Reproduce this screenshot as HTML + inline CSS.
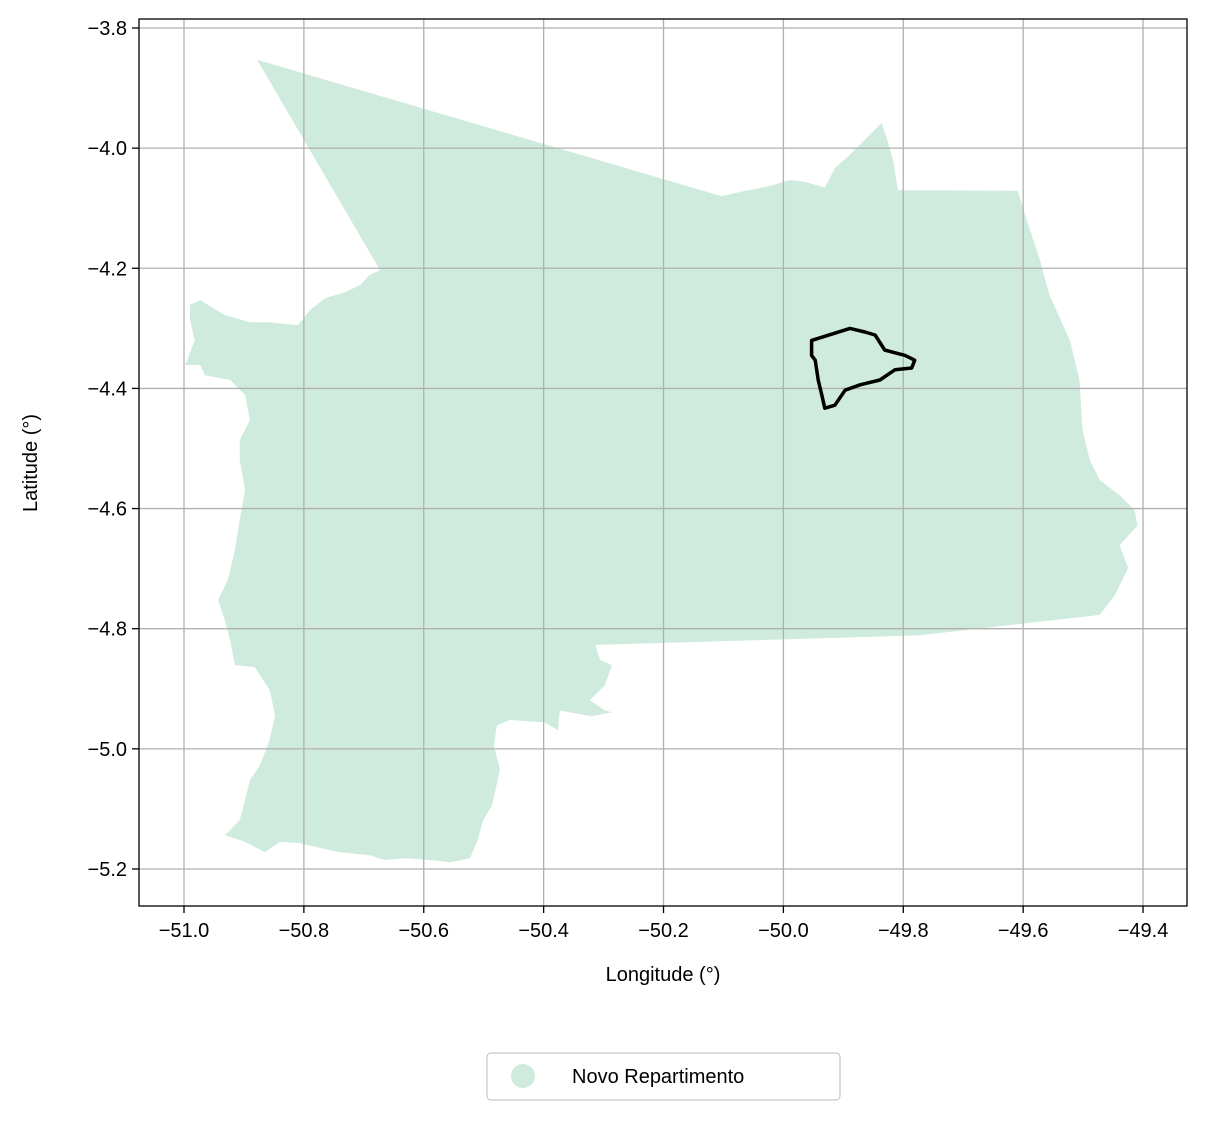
<!DOCTYPE html>
<html><head><meta charset="utf-8"><style>
body{margin:0;background:#fff;width:1205px;height:1120px;overflow:hidden}
svg text{font-family:"Liberation Sans",sans-serif;fill:#000}
</style></head><body>
<svg id="chart" width="1205" height="1120">
<g id="region"></g>
<g id="grid"></g>
<g id="muni"></g>
<rect x="139" y="19" width="1048" height="887" fill="none" stroke="#000" stroke-width="1.3"/>
<g id="ticks"></g>
<text x="663" y="981" font-size="20" text-anchor="middle">Longitude (°)</text>
<text x="37" y="463" font-size="20" text-anchor="middle" transform="rotate(-90 37 463)">Latitude (°)</text>
<g>
<rect x="487" y="1053" width="353" height="47" rx="4" fill="#fff" stroke="#bbb"/>
<circle cx="523" cy="1076" r="12" fill="rgb(207,235,221)"/>
<text x="572" y="1083" font-size="20">Novo Repartimento</text>
</g>
</svg>
<script>
const regionLon=[-50.878,-50.103,-50.073,-50.023,-49.989,-49.964,-49.931,-49.914,-49.889,-49.856,-49.836,-49.827,-49.817,-49.809,-49.609,-49.597,-49.572,-49.556,-49.522,-49.506,-49.501,-49.489,-49.472,-49.439,-49.414,-49.409,-49.439,-49.425,-49.447,-49.472,-49.772,-50.314,-50.306,-50.286,-50.298,-50.323,-50.298,-50.286,-50.320,-50.373,-50.376,-50.398,-50.456,-50.478,-50.483,-50.473,-50.486,-50.501,-50.510,-50.523,-50.556,-50.590,-50.631,-50.665,-50.690,-50.740,-50.773,-50.807,-50.840,-50.865,-50.898,-50.932,-50.907,-50.898,-50.890,-50.873,-50.857,-50.848,-50.857,-50.882,-50.915,-50.923,-50.932,-50.943,-50.927,-50.915,-50.907,-50.898,-50.907,-50.907,-50.890,-50.898,-50.923,-50.965,-50.973,-50.998,-50.982,-50.990,-50.990,-50.973,-50.932,-50.890,-50.857,-50.810,-50.790,-50.765,-50.732,-50.706,-50.690,-50.673];
const regionLat=[-3.853,-4.080,-4.073,-4.063,-4.053,-4.056,-4.066,-4.033,-4.011,-3.978,-3.958,-3.986,-4.020,-4.070,-4.071,-4.111,-4.186,-4.245,-4.320,-4.386,-4.469,-4.519,-4.553,-4.578,-4.603,-4.628,-4.661,-4.699,-4.744,-4.777,-4.811,-4.827,-4.852,-4.861,-4.894,-4.919,-4.936,-4.939,-4.946,-4.936,-4.969,-4.956,-4.952,-4.961,-4.994,-5.035,-5.094,-5.119,-5.152,-5.182,-5.189,-5.185,-5.182,-5.185,-5.177,-5.172,-5.165,-5.157,-5.155,-5.172,-5.155,-5.144,-5.119,-5.085,-5.052,-5.027,-4.985,-4.944,-4.902,-4.864,-4.861,-4.819,-4.786,-4.752,-4.719,-4.669,-4.619,-4.569,-4.519,-4.486,-4.453,-4.411,-4.386,-4.378,-4.361,-4.361,-4.320,-4.286,-4.261,-4.253,-4.278,-4.290,-4.290,-4.295,-4.270,-4.250,-4.240,-4.228,-4.211,-4.203];
const muniLon=[-49.953,-49.889,-49.864,-49.847,-49.831,-49.797,-49.781,-49.786,-49.814,-49.839,-49.872,-49.897,-49.914,-49.931,-49.936,-49.942,-49.947,-49.953];
const muniLat=[-4.320,-4.300,-4.306,-4.311,-4.336,-4.345,-4.353,-4.366,-4.369,-4.386,-4.394,-4.403,-4.428,-4.433,-4.411,-4.386,-4.353,-4.345];
const xTicks=[-51.0,-50.8,-50.6,-50.4,-50.2,-50.0,-49.8,-49.6,-49.4];
const yTicks=[-3.8,-4.0,-4.2,-4.4,-4.6,-4.8,-5.0,-5.2];
const X0=139,X1=1187,Y0=19,Y1=906;
function xs(v){return 184+(v+51)*599.4;}
function ys(v){return 28+(-3.8-v)*600.7;}
const NS='http://www.w3.org/2000/svg';
function mk(t,a,p){const e=document.createElementNS(NS,t);for(const k in a)e.setAttribute(k,a[k]);p.appendChild(e);return e;}
const pts=regionLon.map((v,i)=>xs(v).toFixed(1)+','+ys(regionLat[i]).toFixed(1)).join(' ');
const poly=mk('polygon',{points:pts,fill:'rgb(207,235,221)'},document.getElementById('region'));


const mp=muniLon.map((v,i)=>xs(v).toFixed(1)+','+ys(muniLat[i]).toFixed(1)).join(' ');
const muni=mk('polygon',{points:mp,fill:'none',stroke:'#000','stroke-width':3.5,'stroke-linejoin':'round'},document.getElementById('muni'));


const g=document.getElementById('grid'),tk=document.getElementById('ticks');
const minus=s=>s.replace('-','\u2212');
xTicks.forEach(v=>{const x=xs(v);
 const l=mk('line',{x1:x,x2:x,y1:Y0,y2:Y1,stroke:'#b0b0b0','stroke-width':1.3},g);
 
 
 mk('line',{x1:x,x2:x,y1:Y1,y2:Y1+7,stroke:'#000','stroke-width':1.3},tk);
 const t=mk('text',{x:x,y:Y1+31,'font-size':20,'text-anchor':'middle'},tk);t.textContent=minus(v.toFixed(1));
 
 
});
yTicks.forEach(v=>{const y=ys(v);
 const l=mk('line',{x1:X0,x2:X1,y1:y,y2:y,stroke:'#b0b0b0','stroke-width':1.3},g);
 
 
 mk('line',{x1:X0-7,x2:X0,y1:y,y2:y,stroke:'#000','stroke-width':1.3},tk);
 const t=mk('text',{x:X0-12,y:y+7,'font-size':20,'text-anchor':'end'},tk);t.textContent=minus(v.toFixed(1));
 
 
});
</script>
</body></html>
